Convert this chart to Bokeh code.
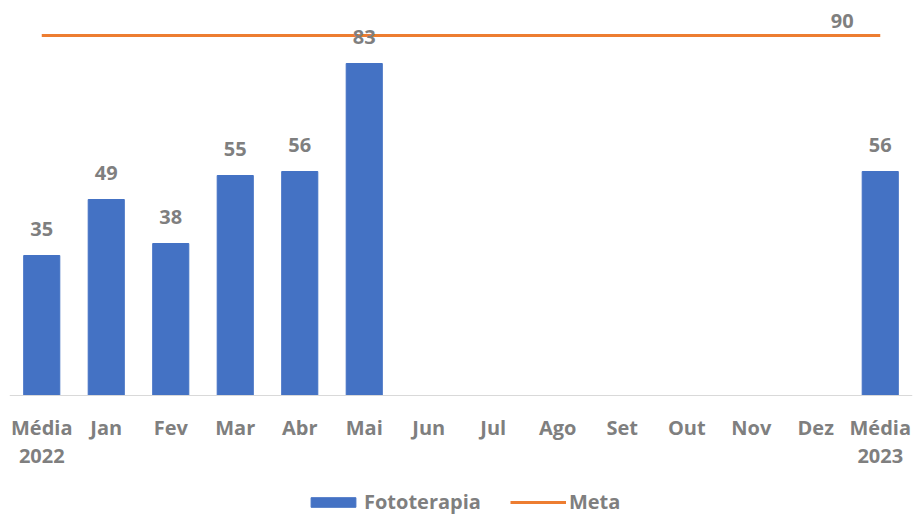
from bokeh.plotting import figure
from bokeh.models import FactorRange, Range1d, Legend, LegendItem, ColumnDataSource
from bokeh.core.properties import value
from bokeh.embed import file_html
from bokeh.resources import INLINE

categories = ["Média\n2022", "Jan", "Fev", "Mar", "Abr", "Mai", "Jun", "Jul",
              "Ago", "Set", "Out", "Nov", "Dez", "Média\n2023"]
fototerapia = [35, 49, 38, 55, 56, 83, None, None, None, None, None, None, None, 56]
meta = [90] * 14

FONT = "Open Sans"
GREY = "#7f7f7f"
BLUE = "#4472C4"
ORANGE = "#ED7D31"

bar_x = [c for c, v in zip(categories, fototerapia) if v is not None]
bar_v = [v for v in fototerapia if v is not None]
bar_src = ColumnDataSource(dict(x=bar_x, top=bar_v, label=[str(v) for v in bar_v]))

p = figure(x_range=FactorRange(*categories), y_range=Range1d(-30.75, 98.75),
           width=915, height=518,
           output_backend="svg", toolbar_location=None,
           min_border_left=9, min_border_right=3, min_border_top=0, min_border_bottom=0)
p.outline_line_color = None
p.xgrid.visible = False
p.ygrid.visible = False
p.yaxis.visible = False

bars = p.vbar(x="x", top="top", bottom=0, width=0.56, source=bar_src, color=BLUE)
line = p.line(x=categories, y=meta, line_color=ORANGE, line_width=3)

p.text(x="x", y="top", text="label", source=bar_src, text_align="center",
       text_baseline="alphabetic", y_offset=-27, text_font=value(FONT),
       text_font_size="20px", text_font_style="bold", text_color=GREY)
p.text(x=[categories[-1]], y=[meta[-1]], text=[str(meta[-1])], text_align="center",
       text_baseline="alphabetic", x_offset=-38, y_offset=-15, text_font=value(FONT),
       text_font_size="20px", text_font_style="bold", text_color=GREY)

ax = p.xaxis[0]
ax.fixed_location = 0
ax.axis_line_color = "#d9d9d9"
ax.axis_line_width = 1
ax.major_tick_line_color = None
ax.minor_tick_line_color = None
ax.major_label_standoff = 12
ax.major_label_text_font = FONT
ax.major_label_text_font_size = "20px"
ax.major_label_text_font_style = "bold"
ax.major_label_text_color = GREY
ax.major_label_text_line_height = 1.07

legend = Legend(items=[LegendItem(label="Fototerapia", renderers=[bars]),
                       LegendItem(label="Meta", renderers=[line])],
                orientation="horizontal", location=(296, 3),
                border_line_color=None, background_fill_alpha=0,
                label_text_font=FONT, label_text_font_size="20px",
                label_text_font_style="bold", label_text_color=GREY,
                glyph_width=56, glyph_height=12, label_standoff=3, spacing=29,
                padding=0, margin=0)
p.add_layout(legend, "center")

open("out.html", "w").write(file_html(p, INLINE))
